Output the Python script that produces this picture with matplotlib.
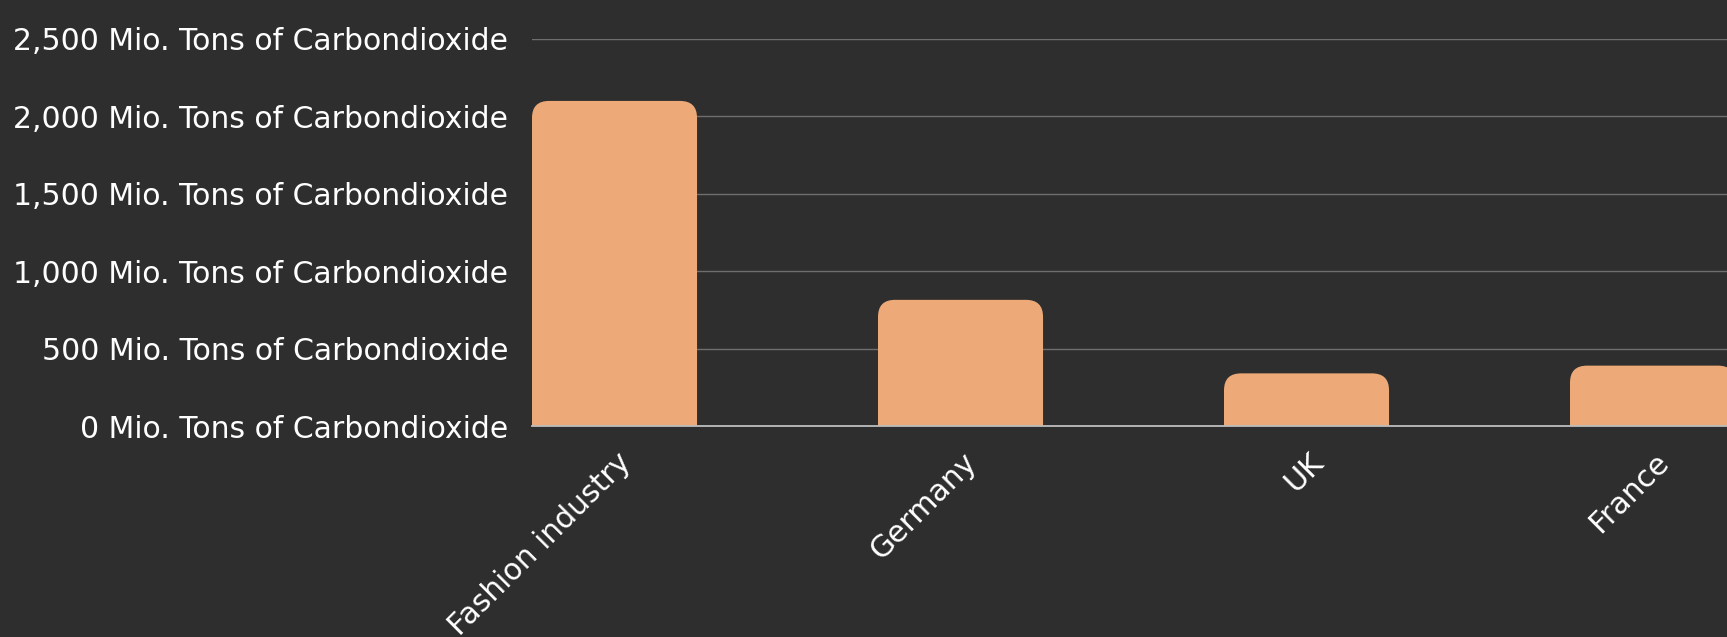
import matplotlib
matplotlib.use("Agg")
import matplotlib.pyplot as plt
import matplotlib.transforms as mtransforms
from matplotlib.patches import FancyBboxPatch
from matplotlib.ticker import FuncFormatter

# values (million tons of CO2)
categories = ["Fashion industry", "Germany", "UK", "France"]
emissions = [2100, 815, 340, 390]
y_ticks = [0, 500, 1000, 1500, 2000, 2500]

bg = "#2e2e2e"
bar_color = "#edaa78"
plt.rcParams["font.family"] = ["DejaVu Sans"]

fig = plt.figure(figsize=(17.27, 6.37), dpi=100, facecolor=bg)
ax = fig.add_axes([532 / 1727, 1 - 426 / 637, 1 - 532 / 1727, (426 - 39) / 637])
ax.set_facecolor(bg)

width = 0.477
x = list(range(len(categories)))
bars = ax.bar(x, emissions, width=width, align="edge", color=bar_color, zorder=3)

ax.set_xlim(0, (1727 - 532) / 346)
ax.set_ylim(0, 2500)

# swap plain bars for ones with rounded top corners
px_x = 1 / 346
px_y = 2500 / 387
r = 17 * px_x
for b in bars:
    b.set_visible(False)
    bx, bw, bh = b.get_x(), b.get_width(), b.get_height()
    p = FancyBboxPatch((bx, -100), bw, bh + 100,
                       boxstyle=f"round,pad=0,rounding_size={r}",
                       mutation_aspect=px_y / px_x,
                       facecolor=bar_color, edgecolor="none", zorder=3)
    ax.add_patch(p)

ax.set_yticks(y_ticks)
ax.yaxis.set_major_formatter(FuncFormatter(lambda v, _: f"{int(v):,} Mio. Tons of Carbondioxide"))
ax.set_xticks([i + width / 2 for i in x])
ax.set_xticklabels(categories, rotation=45, ha="right", va="center", rotation_mode="anchor")
ax.tick_params(axis="both", length=0, colors="white", labelsize=21.5)
ax.tick_params(axis="y", pad=17)
ax.tick_params(axis="x", pad=20)

shift = mtransforms.ScaledTranslation(0.12, -0.04, fig.dpi_scale_trans)
for lab in ax.get_xticklabels():
    lab.set_transform(lab.get_transform() + shift)

ax.grid(axis="y", color="#6e6e6e", linewidth=1.0, zorder=0)
for s in ["top", "right", "left"]:
    ax.spines[s].set_visible(False)
ax.spines["bottom"].set_color("#bdbdbd")
ax.spines["bottom"].set_linewidth(1.3)
ax.spines["bottom"].set_zorder(4)

fig.savefig("out.png", facecolor=bg)
